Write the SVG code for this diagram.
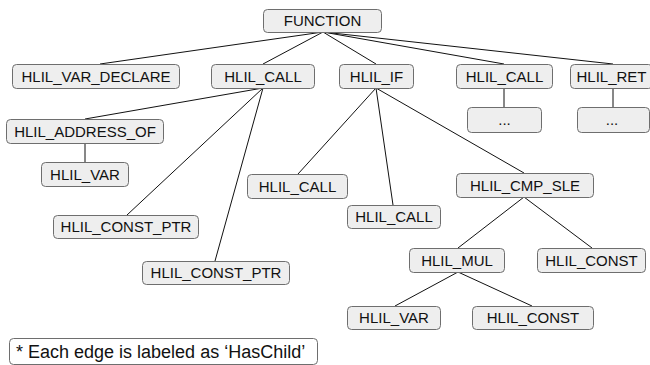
<svg xmlns="http://www.w3.org/2000/svg" width="650" height="365" viewBox="0 0 650 365">
<style>
.n rect{fill:#eeeeee;stroke:#6e6e6e;stroke-width:1}
.n text{font-family:"Liberation Sans",Arial,sans-serif;font-size:15px;fill:#111;text-anchor:middle}
#edges line{stroke:#111;stroke-width:1}
</style>
<rect width="650" height="365" fill="#ffffff"/>
<g id="edges">
<line x1="323" y1="32" x2="100" y2="64"/>
<line x1="323" y1="32" x2="263" y2="64"/>
<line x1="323" y1="32" x2="376" y2="64"/>
<line x1="323" y1="32" x2="504" y2="64"/>
<line x1="323" y1="32" x2="613" y2="64"/>
<line x1="504" y1="88" x2="504" y2="107"/>
<line x1="613" y1="88" x2="613" y2="107"/>
<line x1="263" y1="88" x2="85" y2="119"/>
<line x1="263" y1="88" x2="127" y2="215"/>
<line x1="263" y1="88" x2="215" y2="261"/>
<line x1="85" y1="143" x2="85" y2="162"/>
<line x1="376" y1="88" x2="298" y2="174"/>
<line x1="376" y1="88" x2="393" y2="205"/>
<line x1="376" y1="88" x2="524" y2="173"/>
<line x1="524" y1="197" x2="458" y2="248"/>
<line x1="524" y1="197" x2="592" y2="248"/>
<line x1="458" y1="272" x2="395" y2="306"/>
<line x1="458" y1="272" x2="532" y2="306"/>
</g>
<g id="n-function" class="n"><rect x="263.5" y="9.5" width="118" height="23" rx="4"/><text x="322.5" y="26">FUNCTION</text></g>
<g id="n-var-declare" class="n"><rect x="12.5" y="64.5" width="167" height="24" rx="4"/><text x="96" y="81.5">HLIL_VAR_DECLARE</text></g>
<g id="n-call1" class="n"><rect x="211.5" y="64.5" width="103" height="24" rx="4"/><text x="263" y="81.5">HLIL_CALL</text></g>
<g id="n-if" class="n"><rect x="339.5" y="64.5" width="74" height="24" rx="4"/><text x="376.5" y="81.5">HLIL_IF</text></g>
<g id="n-call2" class="n"><rect x="456.5" y="64.5" width="96" height="24" rx="4"/><text x="504.5" y="81.5">HLIL_CALL</text></g>
<g id="n-ret" class="n"><rect x="570.5" y="64.5" width="82" height="24" rx="4"/><text x="611.5" y="81.5">HLIL_RET</text></g>
<g id="n-dots1" class="n"><rect x="467.5" y="107.5" width="74" height="25" rx="4"/><text x="504.5" y="125">...</text></g>
<g id="n-dots2" class="n"><rect x="577.5" y="107.5" width="72" height="25" rx="4"/><text x="612" y="125">...</text></g>
<g id="n-address-of" class="n"><rect x="6.5" y="119.5" width="157" height="24" rx="4"/><text x="85" y="136.5">HLIL_ADDRESS_OF</text></g>
<g id="n-var1" class="n"><rect x="41.5" y="162.5" width="87" height="24" rx="4"/><text x="85" y="179.5">HLIL_VAR</text></g>
<g id="n-const-ptr1" class="n"><rect x="53.5" y="215.5" width="145" height="23" rx="4"/><text x="126" y="232">HLIL_CONST_PTR</text></g>
<g id="n-const-ptr2" class="n"><rect x="142.5" y="261.5" width="147" height="23" rx="4"/><text x="216" y="278">HLIL_CONST_PTR</text></g>
<g id="n-call3" class="n"><rect x="247.5" y="174.5" width="100" height="24" rx="4"/><text x="297.5" y="191.5">HLIL_CALL</text></g>
<g id="n-call4" class="n"><rect x="347.5" y="205.5" width="93" height="23" rx="4"/><text x="394" y="222">HLIL_CALL</text></g>
<g id="n-cmp-sle" class="n"><rect x="456.5" y="173.5" width="137" height="24" rx="4"/><text x="525" y="190.5">HLIL_CMP_SLE</text></g>
<g id="n-mul" class="n"><rect x="409.5" y="248.5" width="95" height="24" rx="4"/><text x="457" y="265.5">HLIL_MUL</text></g>
<g id="n-const1" class="n"><rect x="537.5" y="248.5" width="108" height="24" rx="4"/><text x="591.5" y="265.5">HLIL_CONST</text></g>
<g id="n-var2" class="n"><rect x="347.5" y="306.5" width="93" height="23" rx="4"/><text x="394" y="323">HLIL_VAR</text></g>
<g id="n-const2" class="n"><rect x="472.5" y="306.5" width="121" height="23" rx="4"/><text x="533" y="323">HLIL_CONST</text></g>
<g id="legend"><rect x="9.5" y="338.5" width="308" height="26" rx="4" fill="#ffffff" stroke="#6e6e6e"/><text x="16" y="358" font-family="'Liberation Sans',Arial,sans-serif" font-size="18" fill="#111">* Each edge is labeled as ‘HasChild’</text></g>
</svg>
